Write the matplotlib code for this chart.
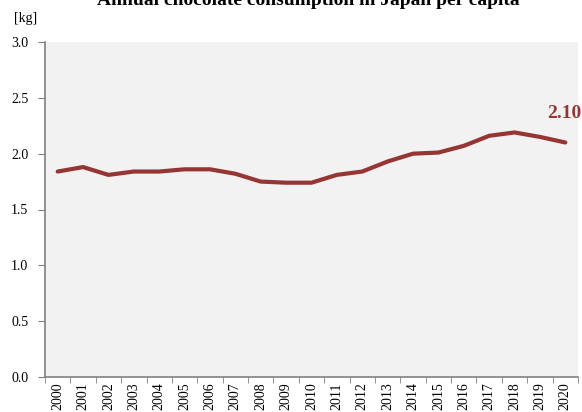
import matplotlib.pyplot as plt
import numpy as np

years = [str(y) for y in range(2000, 2021)]
consumption = [1.84, 1.88, 1.81, 1.84, 1.84, 1.86, 1.86, 1.82, 1.75, 1.74, 1.74,
               1.81, 1.84, 1.93, 2.00, 2.01, 2.07, 2.16, 2.19, 2.15, 2.10]
yticks = [0.0, 0.5, 1.0, 1.5, 2.0, 2.5, 3.0]

line_color = '#963634'
plt.rcParams['font.family'] = ['Liberation Serif', 'DejaVu Serif']

fig = plt.figure(figsize=(5.82, 4.12), dpi=100)
ax = fig.add_axes([45 / 582, 35 / 412, 533 / 582, 335 / 412])
ax.set_facecolor('#f2f2f2')

x = np.arange(len(years))
ax.plot(x, consumption, color=line_color, linewidth=3, solid_capstyle='round')

ax.set_xlim(-0.5, len(years) - 0.5)
ax.set_ylim(0, 3.0)
ax.set_xticks(x)
ax.set_xticklabels(years, rotation=90, fontsize=10)
ax.set_xticks(np.arange(-0.5, len(years)), minor=True)
ax.tick_params(axis='x', which='major', length=0, pad=4)
ax.tick_params(axis='x', which='minor', length=4, color='#808080', direction='out')
ax.set_yticks(yticks)
ax.set_yticklabels([f'{v:.1f}' for v in yticks], fontsize=10)
ax.tick_params(axis='y', length=5, color='#808080', direction='out', pad=7)

for s in ['top', 'right']:
    ax.spines[s].set_visible(False)
for s in ['left', 'bottom']:
    ax.spines[s].set_color('#808080')
    ax.spines[s].set_linewidth(1.2)

ax.annotate(f'{consumption[-1]:.2f}', xy=(x[-1], consumption[-1]),
            xytext=(-13, 18), textcoords='offset points',
            color=line_color, fontsize=14, fontweight='bold', va='baseline')

fig.text(14 / 582, 1 - 22 / 412, '[kg]', fontsize=10, va='baseline')
fig.text(308 / 582, 1 - 5 / 412, 'Annual chocolate consumption in Japan per capita',
         fontsize=14, fontweight='bold', ha='center', va='baseline')

fig.savefig('out.png', dpi=100)
